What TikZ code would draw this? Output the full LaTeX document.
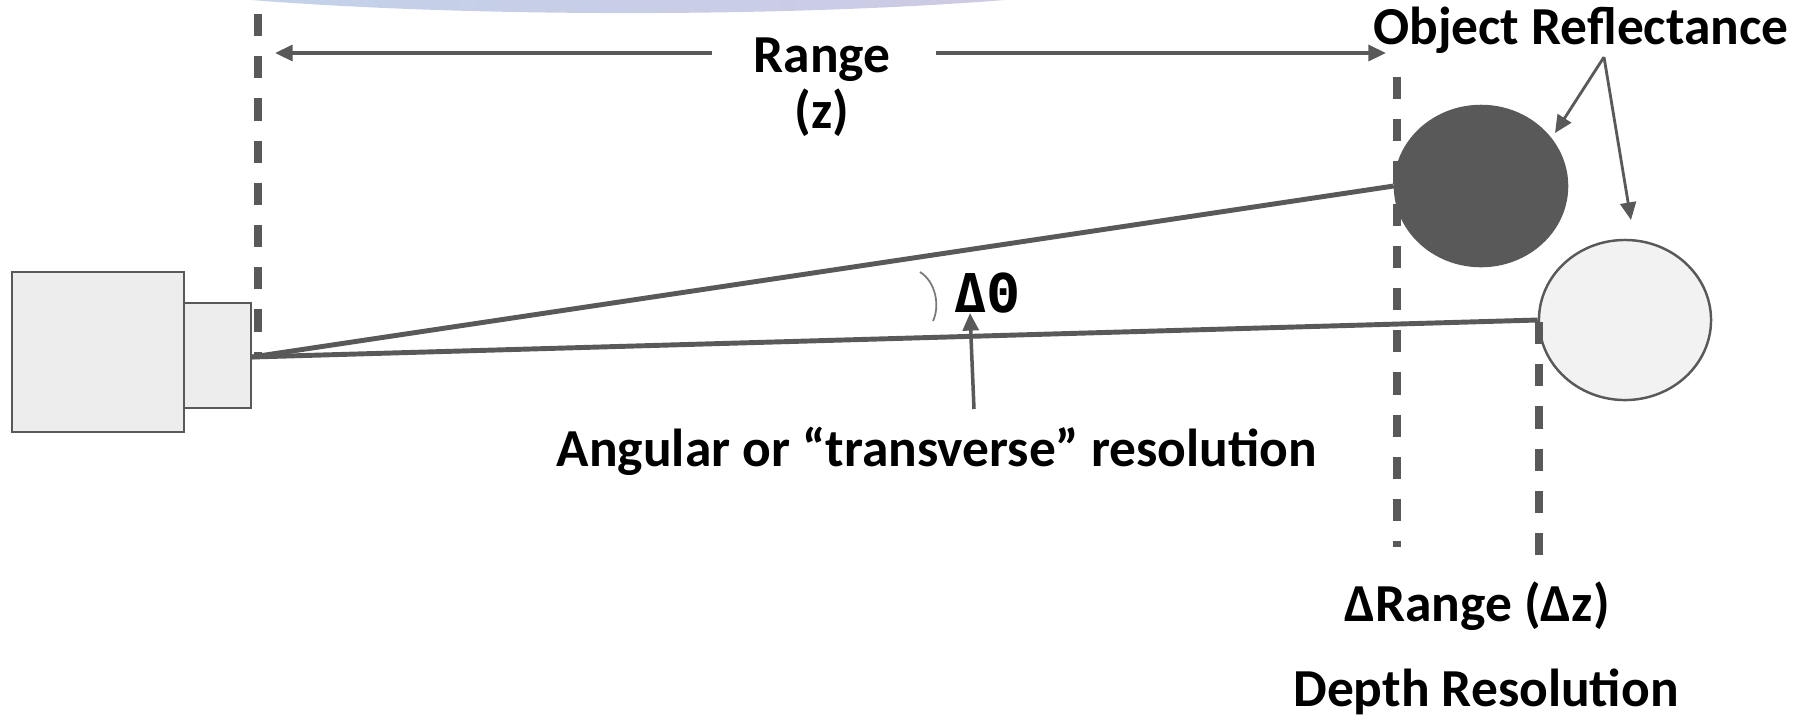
\documentclass[tikz,border=0pt]{standalone}
\usepackage{fontspec}
\setmainfont{Carlito}
\newfontfamily\symf{DejaVu Sans Mono}
\usetikzlibrary{arrows.meta,shapes.geometric}
\definecolor{ln}{HTML}{595959}
\definecolor{boxfill}{HTML}{EDEDED}
\definecolor{lightobj}{HTML}{F2F2F2}
\definecolor{arcl}{HTML}{BFD4EB}
\definecolor{arcr}{HTML}{D1C8E2}
\begin{document}
\begin{tikzpicture}[x=0.01cm,y=-0.01cm,
  lbl/.style={font=\fontsize{15.2}{18}\selectfont\bfseries, inner sep=0pt, anchor=base, text=black},
  dashln/.style={draw=ln, line width=2pt, dash pattern=on 6.3pt off 5.7pt},
  beam/.style={draw=ln, line width=1.4pt},
  thinarrow/.style={draw=ln, line width=0.8pt, -{Triangle[length=5pt,width=4.5pt]}},
  campart/.style={rectangle, draw=ln, fill=boxfill, line width=0.7pt, inner sep=0pt},
  obj/.style={ellipse, draw=ln, line width=0.7pt, inner sep=0pt, minimum width=1.72cm, minimum height=1.60cm}]
\useasboundingbox (0,0) rectangle (1796,720);
% top decorative gradient arc
\begin{scope}
\clip (0,0) rectangle (1796,720);
\shade[left color=arcl, right color=arcr]
  (628,-47) ellipse [x radius=6.05cm, y radius=0.6cm];
\end{scope}
% camera
\node[campart, minimum width=1.72cm, minimum height=1.60cm] (body) at (98,352) {};
\node[campart, minimum width=0.67cm, minimum height=1.05cm] (lens) at (217.5,355.5) {};
% objects
\node[obj, fill=ln] (dark) at (1481,186) {};
\node[obj, fill=lightobj] (light) at (1625,320) {};
% dashed reference lines
\coordinate (d1t) at (258,14);
\coordinate (d1b) at (258,358);
\coordinate (d2t) at (1397,77);
\coordinate (d2b) at (1397,547);
\coordinate (d3t) at (1539,322);
\coordinate (d3b) at (1539,557);
\draw[dashln] (d1t) -- (d1b);
\draw[dashln] (d2t) -- (d2b);
\draw[dashln] (d3t) -- (d3b);
% beams
\coordinate (src) at (252,357);
\draw[beam] (src) -- (dark.west);
\draw[beam] (src) -- (light.west);
% Range arrow
\node[lbl] (range) at (822,72) {Range};
\node[lbl] (z) at (822,128) {(z)};
\coordinate (rl) at (712,53);
\coordinate (rle) at (275,53);
\coordinate (rr) at (936,53);
\coordinate (rre) at (1386,53);
\draw[thinarrow, line width=1pt] (rl) -- (rle);
\draw[thinarrow, line width=1pt] (rr) -- (rre);
% Object reflectance
\node[lbl] (objref) at (1581,44) {Object Reflectance};
\coordinate (apex) at (1604,57);
\coordinate (tipd) at (1555,133);
\coordinate (tipl) at (1631,220);
\draw[thinarrow] (apex) -- (tipd);
\draw[thinarrow] (apex) -- (tipl);
% angle
\draw[ln!80, line width=0.5pt] (920,272) .. controls (936,282) and (940,306) .. (933,321);
\node[font=\fontsize{15.2}{18}\selectfont\bfseries\symf, inner sep=0pt, anchor=base] (dth) at (987,312) {ΔΘ};
\node[lbl] (ang) at (937,466) {Angular or “transverse” resolution};
\coordinate (angtail) at (974,409);
\coordinate (angtip) at (970,313);
\draw[thinarrow, line width=1pt] (angtail) -- (angtip);
% depth
\node[lbl] (drange) at (1477,621) {ΔRange (Δz)};
\node[lbl] (depth) at (1486,706) {Depth Resolution};
\end{tikzpicture}
\end{document}
